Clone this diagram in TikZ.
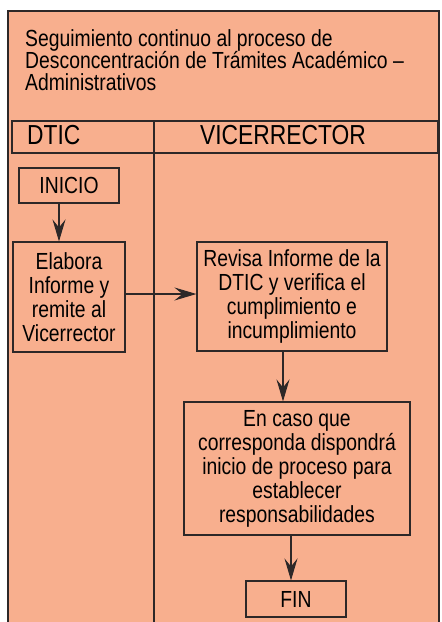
\documentclass[tikz,border=0pt]{standalone}
\usepackage{fontspec}
\setmainfont{Liberation Sans}[FakeStretch=0.83]
\usetikzlibrary{arrows.meta}
\usetikzlibrary{positioning}
\definecolor{salmon}{RGB}{248,175,142}
\definecolor{linea}{RGB}{45,40,40}
\tikzstyle{lane} = [draw=linea, line width=1.3pt]
\tikzstyle{terminal} = [rectangle, text centered, draw=linea, line width=1.1pt, inner sep=0pt, minimum width=100pt, minimum height=35pt, font=\fontsize{23.3}{24}\selectfont]
\tikzstyle{actividad} = [rectangle, align=center, draw=linea, line width=1.1pt, inner sep=0pt, font=\fontsize{23.3}{24}\selectfont]
\tikzstyle{cabecera} = [inner sep=0pt, font=\fontsize{27.5}{28}\selectfont]
\tikzstyle{flujo} = [draw=linea, line width=1.1pt, -{Stealth[length=22pt, width=13pt, inset=8pt]}]

\begin{document}
\begin{tikzpicture}[x=1pt, y=-1pt]

    \useasboundingbox (0,0) rectangle (442,622);
    \fill [white] (0,0) rectangle (442,622);
    \fill [salmon] (8,11) rectangle (439,622);

    % swimlane frame, open at the bottom
    \draw [lane] (8,622) -- (8,11) -- (439,11) -- (439,622);
    \draw [lane] (12,121) rectangle (438,153);
    \draw [lane] (154,121) -- (154,622);

    \node (titulo) [anchor=north west, align=left, inner sep=0pt, font=\fontsize{23.3}{22}\selectfont] at (25,29)
        {Seguimiento continuo al proceso de\\Desconcentración de Trámites Académico –\\Administrativos};

    \node (dtic) [cabecera, anchor=base west] at (27,144) {DTIC};
    \node (vicerrector) [cabecera, anchor=base] at (283,144) {VICERRECTOR};

    \node (inicio) [terminal] at (69,185.5) {INICIO};
    \node (elabora) [actividad, minimum width=112pt, minimum height=110pt] at (69,297)
        {Elabora\\Informe y\\remite al\\Vicerrector};
    \node (revisa) [actividad, minimum width=190pt, minimum height=109pt] at (292,296.5)
        {Revisa Informe de la\\DTIC y verifica el\\cumplimiento e\\incumplimiento};
    \node (encaso) [actividad, minimum width=226pt, minimum height=133pt] at (297,468.5)
        {En caso que\\corresponda dispondrá\\inicio de proceso para\\establecer\\responsabilidades};
    \node (fin) [terminal, minimum height=36pt] at (296,599) {FIN};

    \draw [flujo] ([xshift=-10pt]inicio.south) -- ([xshift=-10pt]elabora.north);
    \draw [flujo] ([yshift=3pt]elabora.east) -- ([yshift=3pt]elabora.east -| revisa.west);
    \draw [flujo] ([xshift=-9pt]revisa.south) -- ([xshift=-9pt]revisa.south |- encaso.north);
    \draw [flujo] ([xshift=-6pt]encaso.south) -- ([xshift=-6pt]encaso.south |- fin.north);

\end{tikzpicture}
\end{document}
